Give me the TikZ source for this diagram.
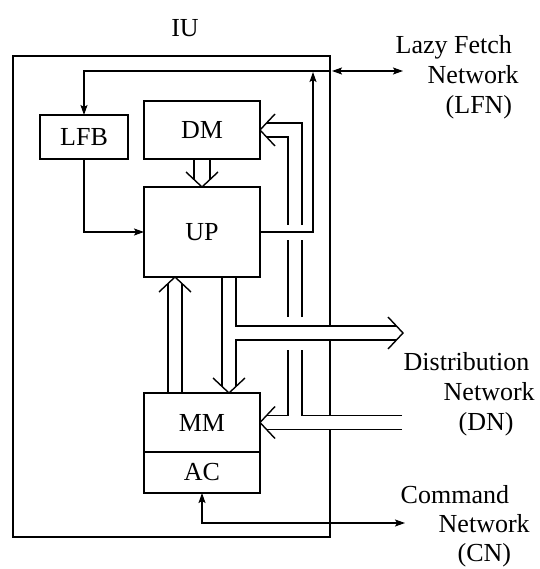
\documentclass[tikz,border=0pt]{standalone}
\usepackage{fontspec}
\setmainfont{Liberation Serif}
\usetikzlibrary{arrows.meta,positioning}

\begin{document}
\begin{tikzpicture}[
    x=1pt,y=-1pt,
    font=\fontsize{26}{30}\selectfont,
    line width=1.4pt,
    unit/.style={draw,inner sep=0pt,outer sep=0pt,minimum width=116pt},
    netlabel/.style={anchor=north west,align=left,inner sep=0pt},
    arr/.style={-{Stealth[length=10pt,width=7pt,inset=2pt]}},
    arrs/.style={{Stealth[length=10pt,width=7pt,inset=2pt]}-{Stealth[length=10pt,width=7pt,inset=2pt]}},
    chev/.pic={\draw (-15,-16) -- (0,0) -- (-15,16);}
  ]
    \useasboundingbox (0,0) rectangle (539,569);
    \node[unit,minimum width=88pt,minimum height=44pt] (lfb) at (84,137) {LFB};
    \node[unit,minimum height=58pt] (dm) at (202,130) {DM};
    \node[unit,minimum height=90pt] (up) at (202,232) {UP};
    \node[unit,minimum height=59pt] (mm) at (202,422.5) {MM};
    \node[unit,minimum height=41pt,below=0pt of mm] (ac) {AC};

    \node[anchor=base] (iu) at (185,37) {IU};
    \node[netlabel] (lfnlabel) at (395,35)
      {Lazy Fetch\\\hspace*{32pt}Network\\\hspace*{50pt}(LFN)};
    \node[netlabel] (dnlabel) at (403,352)
      {Distribution\\\hspace*{40pt}Network\\\hspace*{55pt}(DN)};
    \node[netlabel,font=\fontsize{26}{29}\selectfont] (cnlabel) at (400,485)
      {Command\\\hspace*{38pt}Network\\\hspace*{57pt}(CN)};

    \coordinate (lfn) at (403,71);
    \coordinate (dist) at (403,333);
    \coordinate (dn) at (402,422.5);
    \coordinate (cn) at (405,523);

    \draw (330,326) |- (13,56) |- (330,537) -- (330,429.5);
    \draw (330,340) -- (330,415.5);

    \draw[arrs] (332,71) -- (lfn);
    \draw[arr] (330,71) -| (lfb.north);
    \draw[arr] (lfb.south) |- (up.west);
    \draw[arr] (up.east) -| (313,72);
    \draw[arrs] (ac.south) |- (cn);

    \draw ([xshift=-8pt]dm.south) -- ([shift={(-8,-7.5)}]up.north);
    \draw ([xshift=8pt]dm.south) -- ([shift={(8,-7.5)}]up.north);
    \pic[rotate=-90] at (up.north) {chev};

    \draw ([xshift=-34pt]mm.north) -- ([shift={(-34,6.6)}]up.south);
    \draw ([xshift=-20pt]mm.north) -- ([shift={(-20,6.6)}]up.south);
    \pic[rotate=90] at ([xshift=-27pt]up.south) {chev};

    \draw ([xshift=20pt]up.south) -- ([shift={(20,-6.6)}]mm.north);
    \draw ([xshift=34pt]up.south) |- ([shift={(-6.6,-7)}]dist);
    \draw ([shift={(-6.6,7)}]dist) -| ([shift={(34,-6.6)}]mm.north);
    \pic[rotate=-90] at ([xshift=27pt]mm.north) {chev};
    \pic at (dist) {chev};

    \draw ([yshift=7pt]dn) -| (302,350);
    \draw (302,317) -- (302,240);
    \draw (302,225) |- ([shift={(6.6,-7)}]dm.east);
    \draw ([shift={(6.6,7)}]dm.east) -| (288,225);
    \draw (288,240) -- (288,317);
    \draw (288,350) |- ([shift={(6.6,-7)}]mm.east);
    \draw ([yshift=-7pt]dn) -- ([shift={(6.6,7)}]mm.east);
    \pic[rotate=180] at (dm.east) {chev};
    \pic[rotate=180] at (mm.east) {chev};
  \end{tikzpicture}
\end{document}
